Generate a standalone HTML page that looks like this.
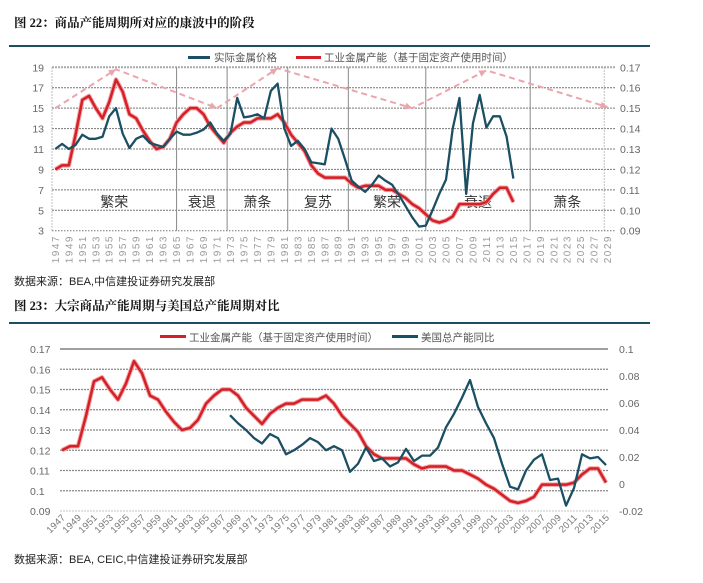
<!DOCTYPE html>
<html><head><meta charset="utf-8">
<style>
html,body{margin:0;padding:0;background:#fff;width:703px;height:583px;overflow:hidden}
svg{display:block;font-family:"Liberation Sans","Noto Sans CJK SC",sans-serif}
</style></head>
<body>
<svg id="s" width="703" height="583" viewBox="0 0 703 583">
  <text x="14" y="27" font-size="12.5" font-weight="bold" fill="#111" font-family="Liberation Serif, Noto Serif CJK SC, serif">图 22：商品产能周期所对应的康波中的阶段</text>
  <rect x="9" y="45" width="641" height="2" fill="#1d4e5e"/>
  <text x="14" y="285" font-size="11" fill="#222">数据来源：BEA,中信建投证券研究发展部</text>
  <text x="14" y="310" font-size="12.5" font-weight="bold" fill="#111" font-family="Liberation Serif, Noto Serif CJK SC, serif">图 23：大宗商品产能周期与美国总产能周期对比</text>
  <rect x="9" y="322" width="641" height="2" fill="#1d4e5e"/>
  <text x="14" y="563" font-size="11" fill="#222">数据来源：BEA, CEIC,中信建投证券研究发展部</text>
  <g id="c1"></g>
  <g id="c2"></g>
</svg>
<script>
// ---------- data ----------
const years = [];
for (let y = 1947; y <= 2015; y++) years.push(y);
const capacity = [.120,.122,.122,.137,.154,.156,.150,.145,.153,.164,.158,.147,.145,.139,.134,.130,.131,.135,.143,.147,.150,.150,.147,.141,.137,.133,.138,.141,.143,.143,.145,.145,.145,.147,.143,.137,.133,.129,.122,.118,.116,.116,.116,.116,.113,.111,.112,.112,.112,.110,.110,.108,.106,.103,.101,.098,.095,.094,.095,.097,.103,.103,.103,.103,.104,.108,.111,.111,.104];
const metalPrice = [11.0,11.5,11.0,11.4,12.4,12.0,12.0,12.2,14.2,15.0,12.5,11.1,12.0,12.3,11.6,11.4,11.2,12.0,12.7,12.4,12.4,12.6,12.9,13.6,12.5,11.8,12.5,16.0,14.1,14.2,14.4,14.0,16.7,17.4,13.0,11.3,11.8,11.0,9.7,9.6,9.5,13.0,12.0,10.0,7.9,7.3,6.8,7.5,8.4,7.9,7.5,6.5,5.4,4.3,3.4,3.5,5.0,6.6,8.0,13.0,16.0,6.6,13.5,16.3,13.1,14.2,14.2,12.2,8.1];
const usYears = [];
for (let y = 1968; y <= 2015; y++) usYears.push(y);
const usCapacityYoY = [.051,.045,.040,.034,.030,.037,.034,.022,.025,.029,.034,.031,.025,.028,.025,.009,.015,.027,.017,.019,.013,.016,.026,.017,.021,.021,.027,.042,.052,.064,.077,.057,.045,.034,.015,-.002,-.004,.010,.018,.022,.003,.004,-.016,-.003,.022,.019,.020,.014];
const leftTicks1 = [3,5,7,9,11,13,15,17,19];
const rightTicks1 = ["0.09","0.10","0.11","0.12","0.13","0.14","0.15","0.16","0.17"];
const waveYears = [1947,1956,1971,1980,2000,2011,2029];
const waveValues = [15,18.8,15,18.9,15,18.7,15.1];
const phaseBounds = [1947,1965.5,1973,1982,1991,2002.5,2018,2029];
const phaseNames = ["繁荣","衰退","萧条","复苏","繁荣","衰退","萧条"];
const leftTicks2 = [0.09,0.1,0.11,0.12,0.13,0.14,0.15,0.16,0.17];
const leftTickLabels2 = ["0.09","0.1","0.11","0.12","0.13","0.14","0.15","0.16","0.17"];
const rightTicks2 = [-0.02,0,0.02,0.04,0.06,0.08,0.1];
const rightTickLabels2 = ["-0.02","0","0.02","0.04","0.06","0.08","0.1"];

const NS = "http://www.w3.org/2000/svg";
function mk(parent, tag, attrs, text) {
  const e = document.createElementNS(NS, tag);
  for (const k in attrs) e.setAttribute(k, attrs[k]);
  if (text !== undefined) e.textContent = text;
  parent.appendChild(e);
  return e;
}
const BLUE = "#1b4f63", RED = "#d42027", TXT = "#666";

// ---------- chart 1 ----------
(function () {
  const g = document.getElementById("c1");
  const L = 52, R = 611, T = 67.3, B = 230.7;
  const nCat = 83;
  const cw = (R - L) / nCat;
  const x = yr => L + (yr - 1947 + 0.5) * cw;
  const xb = yr => L + (yr - 1947) * cw;
  const y = v => T + (19 - v) * (B - T) / 16;
  const yr2 = r => y(3 + (r - 0.09) * 200);

  leftTicks1.forEach((t, i) => {
    const gl = mk(g, "line", {x1: L, x2: R + 4, y1: y(t), y2: y(t), stroke: i === 8 ? "#aaa" : "#777", "stroke-width": i === 8 ? 2 : 1, "stroke-dasharray": i === 0 ? "1.5,1.5" : "2,1"});
    
    
    const lt = mk(g, "text", {x: 44, y: y(t) + 4, "font-size": 10.5, fill: TXT, "text-anchor": "end"}, String(t));
    
    
    const rt = mk(g, "text", {x: 620, y: y(t) + 4, "font-size": 10.5, fill: TXT}, rightTicks1[i]);
    
    
  });
  phaseBounds.forEach((b, i) => {
    const vl = mk(g, "line", {x1: xb(b), x2: xb(b), y1: T, y2: B, stroke: i === 0 || i === 7 ? "#aaa" : "#888", "stroke-width": 1, "stroke-dasharray": i === 0 || i === 7 ? "1.5,1.5" : ""});
    
    
  });
  phaseNames.forEach((n, i) => {
    const cx = (xb(phaseBounds[i]) + xb(phaseBounds[i + 1])) / 2;
    const pt = mk(g, "text", {x: cx, y: 207, "font-size": 14, fill: "#333", "text-anchor": "middle"}, n);
    
    
  });
  for (let yr = 1947; yr <= 2029; yr += 2) {
    const t = mk(g, "text", {transform: `translate(${x(yr) + 3.5},235) rotate(-90)`, "font-size": 10, "letter-spacing": 1.5, fill: "#999", "text-anchor": "end"}, String(yr));
    
    
  }
  const wpts = waveYears.map((w, i) => [x(w), y(waveValues[i])]);
  const wave = mk(g, "polyline", {points: wpts.map(p => p.join(",")).join(" "), fill: "none", stroke: "#eba5ad", "stroke-width": 2, "stroke-dasharray": "6,4"});
  
  
  for (let i = 1; i < wpts.length; i++) {
    const [x0, y0] = wpts[i - 1], [x1, y1] = wpts[i];
    const a = Math.atan2(y1 - y0, x1 - x0);
    const p1 = [x1 - 8 * Math.cos(a - 0.45), y1 - 8 * Math.sin(a - 0.45)];
    const p2 = [x1 - 8 * Math.cos(a + 0.45), y1 - 8 * Math.sin(a + 0.45)];
    const ah = mk(g, "polygon", {points: `${x1},${y1} ${p1.join(",")} ${p2.join(",")}`, fill: "#eba5ad"});
    
    
  }
  const redPts = years.map((yr, i) => `${x(yr)},${yr2(capacity[i])}`).join(" ");
  const glow = mk(g, "polyline", {points: redPts, fill: "none", stroke: "#f3a3a6", "stroke-width": 4.5, "stroke-linejoin": "round"});
  
  
  const red = mk(g, "polyline", {points: redPts, fill: "none", stroke: RED, "stroke-width": 2.5, "stroke-linejoin": "round"});
  
  
  const bluePts = years.map((yr, i) => `${x(yr)},${y(metalPrice[i])}`).join(" ");
  const blue = mk(g, "polyline", {points: bluePts, fill: "none", stroke: BLUE, "stroke-width": 2.3, "stroke-linejoin": "round"});
  
  
  const l1 = mk(g, "rect", {x: 188, y: 56, width: 22, height: 3, fill: BLUE});
  
  
  const l1t = mk(g, "text", {x: 214, y: 61, "font-size": 10.5, fill: "#555"}, "实际金属价格");
  
  
  const l2 = mk(g, "rect", {x: 296, y: 56, width: 25, height: 3, fill: RED});
  
  
  const l2t = mk(g, "text", {x: 324, y: 61, "font-size": 10.5, fill: "#555"}, "工业金属产能（基于固定资产使用时间）");
  
  
})();

// ---------- chart 2 ----------
(function () {
  const g = document.getElementById("c2");
  const L = 60, R = 608, T = 349, B = 511;
  const x = yr => 62 + (yr - 1947) * (544 / 68);
  const y = v => T + (0.17 - v) * (B - T) / 0.08;
  const yr2 = r => T + (0.1 - r) * (B - T) / 0.12;

  leftTicks2.forEach((t, i) => {
    const gl = mk(g, "line", {x1: L, x2: R, y1: y(t), y2: y(t), stroke: i === 8 ? "#666" : "#888", "stroke-width": i === 0 ? 0.6 : 1.2, "stroke-dasharray": i === 8 ? "" : "2,1"});
    
    
    const lt = mk(g, "text", {x: 30, y: y(t) + 4, "font-size": 10.5, fill: TXT}, leftTickLabels2[i]);
    
    
  });
  rightTicks2.forEach((t, i) => {
    const rt = mk(g, "text", {x: 619, y: yr2(t) + 4, "font-size": 10.5, fill: TXT}, rightTickLabels2[i]);
    
    
  });
  for (let yr = 1947; yr <= 2015; yr += 2) {
    const t = mk(g, "text", {transform: `translate(${x(yr) + 4},518) rotate(-45)`, "font-size": 9.5, "letter-spacing": 0.3, fill: "#777", "text-anchor": "end"}, String(yr));
    
    
  }
  const redPts = years.map((yr, i) => `${x(yr)},${y(capacity[i])}`).join(" ");
  const glow = mk(g, "polyline", {points: redPts, fill: "none", stroke: "#f3a3a6", "stroke-width": 4.5, "stroke-linejoin": "round"});
  
  
  const red = mk(g, "polyline", {points: redPts, fill: "none", stroke: RED, "stroke-width": 2.5, "stroke-linejoin": "round"});
  
  
  const bluePts = usYears.map((yr, i) => `${x(yr)},${yr2(usCapacityYoY[i])}`).join(" ");
  const blue = mk(g, "polyline", {points: bluePts, fill: "none", stroke: BLUE, "stroke-width": 2.3, "stroke-linejoin": "round"});
  
  
  const l1 = mk(g, "rect", {x: 160, y: 335, width: 26, height: 3, fill: RED});
  
  
  const l1t = mk(g, "text", {x: 189, y: 341, "font-size": 10.5, fill: "#555"}, "工业金属产能（基于固定资产使用时间）");
  
  
  const l2 = mk(g, "rect", {x: 392, y: 335, width: 26, height: 3, fill: BLUE});
  
  
  const l2t = mk(g, "text", {x: 421, y: 341, "font-size": 10.5, fill: "#555"}, "美国总产能同比");
  
  
})();
</script>
</body></html>
